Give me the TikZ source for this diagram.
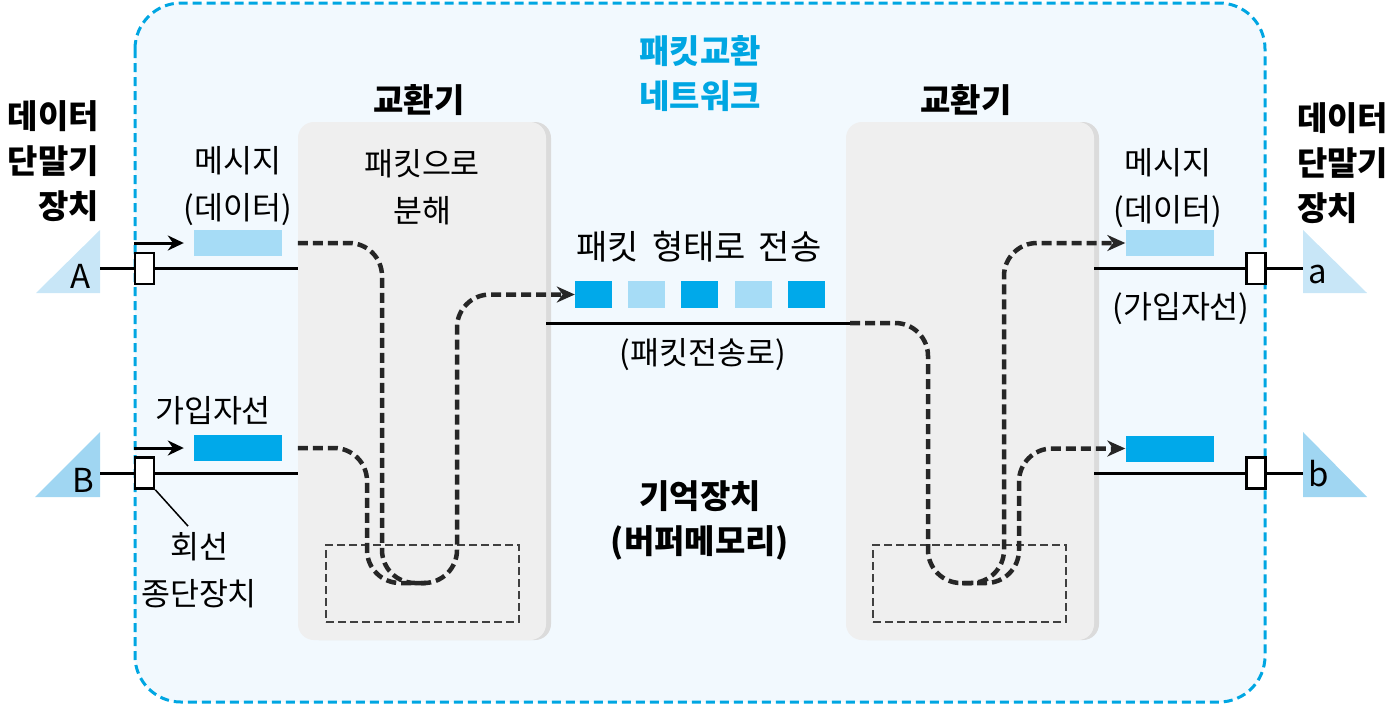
\documentclass[tikz,border=0pt]{standalone}
\usepackage{fontspec}
\setmainfont{Noto Sans CJK KR}
\usetikzlibrary{arrows.meta, positioning, calc, shadows}
\definecolor{netcyan}{RGB}{0,166,226}
\definecolor{netfill}{RGB}{242,249,254}
\definecolor{swgray}{RGB}{239,239,239}
\definecolor{pktdark}{RGB}{0,169,234}
\definecolor{pktlight}{RGB}{166,220,246}
\definecolor{trilight}{RGB}{200,230,247}
\definecolor{tridark}{RGB}{160,214,242}

\begin{document}
\begin{tikzpicture}[x=1pt, y=-1pt,
    netframe/.style={draw=netcyan, line width=3pt, dash pattern=on 9pt off 5pt, fill=netfill, rounded corners=46pt},
    switchbox/.style={rectangle, fill=swgray, rounded corners=16pt, minimum width=248pt, minimum height=518pt,
        drop shadow={shadow xshift=5pt, shadow yshift=0pt, fill=black!14, opacity=1}},
    bufbox/.style={rectangle, draw=black!75, line width=1.4pt, dash pattern=on 8pt off 4pt, minimum width=193pt, minimum height=77pt},
    termbox/.style={rectangle, draw, fill=white, line width=2.5pt, minimum width=19pt, minimum height=31pt, inner sep=0pt},
    msgbox/.style={rectangle, minimum width=88pt, minimum height=26pt, inner sep=0pt},
    pkt/.style={rectangle, minimum width=37pt, minimum height=27pt, inner sep=0pt},
    wire/.style={line width=3pt},
    send/.style={wire, -{Stealth[length=16pt, width=15pt]}},
    flow/.style={line width=4.5pt, dash pattern=on 10pt off 5pt, draw=black!85, rounded corners=33pt, -{Stealth[length=18pt, width=16pt]}},
    lbl/.style={font=\fontsize{31.5}{47}\selectfont, align=center, inner sep=0pt},
    blbl/.style={font=\fontsize{33}{45}\selectfont\bfseries, align=center, inner sep=0pt}
]
\useasboundingbox (0,0) rectangle (1396,705);
\draw[netframe] (135,3) rectangle (1265,702);

% switches and buffers
\node[switchbox] (swL) at (422,381) {};
\node[switchbox] (swR) at (970,381) {};
\node[bufbox] (bufL) at (422.5,583.5) {};
\node[bufbox] (bufR) at (969.5,583.5) {};

% labels
\node[blbl, text=netcyan] (net) at (700,74) {패킷교환\\네트워크};
\node[blbl] (swLt) at (419,100) {교환기};
\node[blbl] (swRt) at (966,100) {교환기};
\node[blbl, anchor=east, align=right] (dteL) at (99,161) {데이터\\단말기\\장치};
\node[blbl, anchor=west, align=left] (dteR) at (1297,163) {데이터\\단말기\\장치};
\node[lbl] (split) at (422,187) {패킷으로\\분해};
\node[lbl] (msgAt) at (238,186) {메시지\\(데이터)};
\node[lbl] (msgat) at (1168,188) {메시지\\(데이터)};
\node[lbl] (subB) at (213,411) {가입자선};
\node[lbl] (suba) at (1181,309) {(가입자선)};
\node[lbl] (ctu) at (199,570) {회선\\종단장치};
\node[lbl, font=\fontsize{34}{40}\selectfont] (pktt) at (699,247) {패킷\hspace{13pt}형태로\hspace{13pt}전송};
\node[lbl] (trunkt) at (703,355) {(패킷전송로)};
\node[blbl] (mem) at (700,520) {기억장치\\(버퍼메모리)};

% terminals
\fill[trilight] (36,293) -- (100,230) -- (100,293) -- cycle;
\fill[tridark] (35,497) -- (100,432) -- (100,497) -- cycle;
\fill[trilight] (1303,230) -- (1367,293) -- (1303,293) -- cycle;
\fill[tridark] (1303,432) -- (1367,497) -- (1303,497) -- cycle;
\node[lbl, font=\fontsize{33}{33}\selectfont] (devA) at (81,276) {A};
\node[lbl, font=\fontsize{33}{33}\selectfont] (devB) at (83,480) {B};
\node[lbl, font=\fontsize{33}{33}\selectfont] (deva) at (1318,275) {a};
\node[lbl, font=\fontsize{33}{33}\selectfont] (devb) at (1319,474) {b};
\coordinate (triA) at (100,268.5);
\coordinate (triB) at (100,473);
\coordinate (tria) at (1303,268.5);
\coordinate (trib) at (1303,473);

\node[termbox] (termA) at (144.5,268.5) {};
\node[termbox] (termB) at (144.5,473) {};
\node[termbox] (termAr) at (1256,268.5) {};
\node[termbox] (termBr) at (1256,473) {};

% messages and packets
\node[msgbox, fill=pktlight] (msgA) at (238,243) {};
\node[msgbox, fill=pktdark] (msgB) at (238,448) {};
\node[msgbox, fill=pktlight] (msga) at (1169.5,243) {};
\node[msgbox, fill=pktdark] (msgb) at (1169.5,448.5) {};
\foreach \c [count=\i] in {pktdark,pktlight,pktdark,pktlight,pktdark}
    \node[pkt, fill=\c] (pk\i) at ({593.5+53.2*(\i-1)},294.5) {};

% lines
\draw[wire] (triA) -- (termA.west);
\draw[wire] (termA.east) -- (swL.west |- termA);
\draw[wire] (triB) -- (termB.west);
\draw[wire] (termB.east) -- (swL.west |- termB);
\draw[wire] (swR.east |- termAr) -- (termAr.west);
\draw[wire] (termAr.east) -- (tria);
\draw[wire] (swR.east |- termBr) -- (termBr.west);
\draw[wire] (termBr.east) -- (trib);
\draw[send] (termA.west |- msgA) -- ([xshift=-10pt]msgA.west);
\draw[send] (termB.west |- msgB) -- ([xshift=-10pt]msgB.west);
\draw[line width=1.5pt] (termB.south east) -- ([xshift=-11pt, yshift=6pt]ctu.north);
\coordinate (trunkL) at (swL.east |- 0,323);
\coordinate (trunkR) at (850,323);
\draw[wire] (trunkL) -- (trunkR);

% packet flows
\coordinate (mergeL) at (428,583);
\coordinate (mergeR) at (962,583);
\draw[flow] (swL.west |- msgA) -- (382,243) -- (382,583) -- (457,583) -- (457,294.5) -- (pk1.west);
\draw[flow, -] (swL.west |- msgB) -- (367,448) -- (367,583) -- (mergeL);
\draw[flow] (trunkR) -- (928,323) -- (928,583) -- (1004,583) -- (1004,243) -- (msga.west);
\draw[flow] (mergeR) -- (1019,583) -- (1019,448.5) -- (msgb.west);
\end{tikzpicture}
\end{document}
